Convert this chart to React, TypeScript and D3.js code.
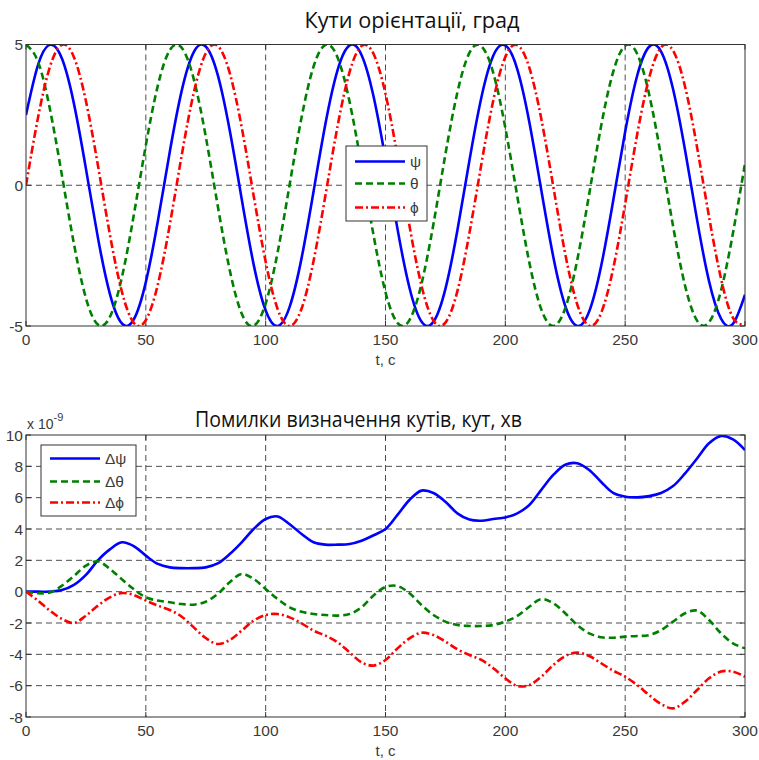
import React from "react";
import * as d3 from "d3";

// ---------- data ----------
const timeTop = d3.range(0, 301, 5);
const psiDeg = [2.5, 4.27, 4.99, 4.5, 2.9, 0.59, -1.86, -3.86, -4.91, -4.76, -3.44, -1.28, 1.19, 3.37, 4.73, 4.93, 3.92, 1.95, -0.49, -2.82, -4.45, -5.0, -4.32, -2.58, -0.21, 2.21, 4.09, 4.97, 4.63, 3.16, 0.92, -1.55, -3.64, -4.84, -4.85, -3.68, -1.6, 0.87, 3.12, 4.61, 4.97, 4.12, 2.25, -0.17, -2.54, -4.29, -5.0, -4.48, -2.86, -0.55, 1.9, 3.89, 4.92, 4.75, 3.41, 1.24, -1.23, -3.41, -4.74, -4.92, -3.89];
const thetaDeg = [5, 4.39, 2.7, 0.35, -2.08, -4.01, -4.95, -4.68, -3.27, -1.05, 1.42, 3.54, 4.8, 4.88, 3.77, 1.73, -0.73, -3.01, -4.56, -4.99, -4.2, -2.38, 0.02, 2.42, 4.22, 4.99, 4.54, 2.97, 0.68, -1.77, -3.8, -4.89, -4.79, -3.51, -1.38, 1.1, 3.3, 4.7, 4.94, 3.98, 2.04, -0.4, -2.74, -4.41, -5.0, -4.37, -2.66, -0.31, 2.12, 4.03, 4.96, 4.67, 3.23, 1.01, -1.46, -3.57, -4.81, -4.87, -3.74, -1.69, 0.77];
const phiDeg = [0, 2.4, 4.21, 4.99, 4.55, 2.99, 0.71, -1.75, -3.78, -4.89, -4.79, -3.53, -1.4, 1.08, 3.29, 4.69, 4.95, 3.99, 2.06, -0.38, -2.72, -4.4, -5.0, -4.38, -2.68, -0.33, 2.1, 4.02, 4.95, 4.67, 3.25, 1.03, -1.44, -3.56, -4.81, -4.88, -3.76, -1.71, 0.75, 3.03, 4.56, 4.98, 4.18, 2.36, -0.04, -2.44, -4.23, -4.99, -4.53, -2.96, -0.66, 1.8, 3.81, 4.9, 4.78, 3.5, 1.35, -1.12, -3.32, -4.71, -4.94];

const timeBottom = d3.range(0, 301, 5);
const dPsi = [0, 0, 0, 0.1, 0.43, 1.07, 2.0, 2.7, 3.15, 2.9, 2.3, 1.77, 1.55, 1.5, 1.5, 1.55, 1.8, 2.4, 3.15, 4.0, 4.64, 4.8, 4.3, 3.68, 3.15, 3.0, 3.0, 3.04, 3.25, 3.6, 4.0, 4.9, 5.85, 6.45, 6.3, 5.74, 5.0, 4.6, 4.53, 4.64, 4.74, 5.0, 5.53, 6.5, 7.45, 8.1, 8.2, 7.77, 7.0, 6.3, 6.06, 6.02, 6.1, 6.3, 6.74, 7.55, 8.5, 9.47, 9.94, 9.72, 9.04];
const dTheta = [0, -0.1, -0.05, 0.38, 1.0, 1.66, 1.94, 1.45, 0.79, 0.15, -0.36, -0.57, -0.68, -0.79, -0.83, -0.64, -0.15, 0.6, 1.13, 0.81, 0.17, -0.47, -1.0, -1.28, -1.43, -1.49, -1.53, -1.43, -1.0, -0.25, 0.3, 0.36, -0.1, -0.85, -1.49, -1.91, -2.13, -2.19, -2.19, -2.13, -1.91, -1.55, -0.96, -0.47, -0.74, -1.38, -2.13, -2.66, -2.91, -2.94, -2.87, -2.83, -2.77, -2.45, -1.91, -1.38, -1.21, -1.81, -2.66, -3.3, -3.62];
const dPhi = [0, -0.57, -1.21, -1.74, -2.0, -1.53, -0.89, -0.36, -0.09, -0.21, -0.57, -0.89, -1.17, -1.6, -2.28, -2.96, -3.34, -3.09, -2.49, -1.85, -1.49, -1.43, -1.64, -2.02, -2.49, -2.81, -3.23, -3.87, -4.51, -4.72, -4.36, -3.62, -2.98, -2.62, -2.77, -3.19, -3.68, -4.04, -4.36, -4.89, -5.53, -6.02, -5.96, -5.43, -4.68, -4.11, -3.89, -4.11, -4.57, -5.04, -5.43, -5.96, -6.6, -7.17, -7.45, -7.02, -6.28, -5.53, -5.1, -5.1, -5.43];

const xTicks = [0, 50, 100, 150, 200, 250, 300];
const yTicksTop = [-5, 0, 5];
const yTicksBottom = [-8, -6, -4, -2, 0, 2, 4, 6, 8, 10];
const legendTop = ["ψ", "θ", "ϕ"];
const legendBottom = ["Δψ", "Δθ", "Δϕ"];
const titleTop = "Кути орієнтації, град";
const titleBottom = "Помилки визначення кутів, кут, хв";
const xLabel = "t, c";

// ---------- styles ----------
const seriesStyle = [
  { color: "#0000ff", dash: "none" },
  { color: "#008000", dash: "7,4" },
  { color: "#ff0000", dash: "8,3,2,3" },
];
const LEFT = 26;
const RIGHT = 745;
const TICK_FONT = "'Liberation Sans', Arial, sans-serif";
const TITLE_FONT = "'Open Sans', 'Noto Sans', sans-serif";
const LABEL_COLOR = "#3a3a3a";

type PanelProps = {
  id: string;
  top: number;
  bottom: number;
  yDomain: [number, number];
  yTicks: number[];
  yGrid: number[];
  times: number[];
  series: number[][];
  curve: d3.CurveFactory;
};

function Panel({ id, top, bottom, yDomain, yTicks, yGrid, times, series, curve }: PanelProps) {
  const x = d3.scaleLinear().domain([0, 300]).range([LEFT, RIGHT]);
  const y = d3.scaleLinear().domain(yDomain).range([bottom, top]);
  const line = (vals: number[]) =>
    d3
      .line<number>()
      .x((_, i) => x(times[i]))
      .y((v) => y(v))
      .curve(curve)(vals) || "";
  return (
    <g>
      <defs>
        <clipPath id={id}>
          <rect x={LEFT} y={top} width={RIGHT - LEFT} height={bottom - top} />
        </clipPath>
      </defs>
      <rect x={LEFT} y={top} width={RIGHT - LEFT} height={bottom - top} fill="#fff" />
      {xTicks.slice(1, -1).map((t) => (
        <line key={"gx" + t} x1={x(t)} x2={x(t)} y1={top} y2={bottom} stroke="#222" strokeWidth={0.8} strokeDasharray="6,4" />
      ))}
      {yGrid.map((v) => (
        <line key={"gy" + v} x1={LEFT} x2={RIGHT} y1={y(v)} y2={y(v)} stroke="#222" strokeWidth={0.8} strokeDasharray="6,4" />
      ))}
      {xTicks.map((t) => (
        <g key={"tx" + t}>
          <line x1={x(t)} x2={x(t)} y1={bottom} y2={bottom - 5} stroke="#333" />
          <line x1={x(t)} x2={x(t)} y1={top} y2={top + 5} stroke="#333" />
          <text x={x(t)} y={bottom + 19} textAnchor="middle" fontFamily={TICK_FONT} fontSize={15.5} fill={LABEL_COLOR}>
            {t}
          </text>
        </g>
      ))}
      {yTicks.map((v) => (
        <g key={"ty" + v}>
          <line x1={LEFT} x2={LEFT + 5} y1={y(v)} y2={y(v)} stroke="#333" />
          <line x1={RIGHT} x2={RIGHT - 5} y1={y(v)} y2={y(v)} stroke="#333" />
          <text x={LEFT - 3} y={y(v) + 5.5} textAnchor="end" fontFamily={TICK_FONT} fontSize={15.5} fill={LABEL_COLOR}>
            {v}
          </text>
        </g>
      ))}
      <g clipPath={`url(#${id})`}>
        {series.map((vals, i) => (
          <path
            key={"s" + i}
            d={line(vals)}
            fill="none"
            stroke={seriesStyle[i].color}
            strokeWidth={2.6}
            strokeDasharray={seriesStyle[i].dash}
          />
        ))}
      </g>
      <rect x={LEFT} y={top} width={RIGHT - LEFT} height={bottom - top} fill="none" stroke="#333" strokeWidth={1} />
      <text x={(LEFT + RIGHT) / 2} y={bottom + 39} textAnchor="middle" fontFamily={TICK_FONT} fontSize={15} fill={LABEL_COLOR}>
        {xLabel}
      </text>
    </g>
  );
}

function Legend({ x0, y0, w, h, rows, labels }: { x0: number; y0: number; w: number; h: number; rows: number[]; labels: string[] }) {
  return (
    <g>
      <rect x={x0} y={y0} width={w} height={h} fill="#fff" stroke="#333" strokeWidth={1} />
      {labels.map((lab, i) => (
        <g key={lab}>
          <line
            x1={x0 + 9}
            x2={x0 + 59}
            y1={y0 + rows[i]}
            y2={y0 + rows[i]}
            stroke={seriesStyle[i].color}
            strokeWidth={2.6}
            strokeDasharray={seriesStyle[i].dash}
          />
          <text x={x0 + 64} y={y0 + rows[i] + 5.5} fontFamily={TICK_FONT} fontSize={15.5} fill={LABEL_COLOR}>
            {lab}
          </text>
        </g>
      ))}
    </g>
  );
}

export default function App() {
  return (
    <svg width={759} height={760} style={{ position: "absolute", left: 0, top: 0, background: "#fff" }}>
      <rect width={759} height={760} fill="#fff" />
      <text x={412} y={27.5} textAnchor="middle" fontFamily={TITLE_FONT} fontSize={21} fill="#111" textLength={215} lengthAdjust="spacingAndGlyphs">
        {titleTop}
      </text>
      <Panel
        id="clipTop"
        top={44.5}
        bottom={326}
        yDomain={[-5, 5]}
        yTicks={yTicksTop}
        yGrid={[0]}
        times={timeTop}
        series={[psiDeg, thetaDeg, phiDeg]}
        curve={d3.curveNatural}
      />
      <Legend x0={346} y0={146} w={81} h={75} rows={[15.5, 37.5, 61.5]} labels={legendTop} />

      <text x={358.5} y={427} textAnchor="middle" fontFamily={TITLE_FONT} fontSize={21} fill="#111" textLength={327} lengthAdjust="spacingAndGlyphs">
        {titleBottom}
      </text>
      <Panel
        id="clipBottom"
        top={435}
        bottom={717}
        yDomain={[-8, 10]}
        yTicks={yTicksBottom}
        yGrid={[-6, -4, -2, 0, 2, 4, 6, 8]}
        times={timeBottom}
        series={[dPsi, dTheta, dPhi]}
        curve={d3.curveCatmullRom}
      />
      <text x={27} y={429} fontFamily={TICK_FONT} fontSize={14} fill={LABEL_COLOR}>
        x 10
        <tspan dy={-8} fontSize={11}>-9</tspan>
      </text>
      <Legend x0={41} y0={445} w={95} h={71} rows={[13.5, 36.5, 57.5]} labels={legendBottom} />
    </svg>
  );
}
